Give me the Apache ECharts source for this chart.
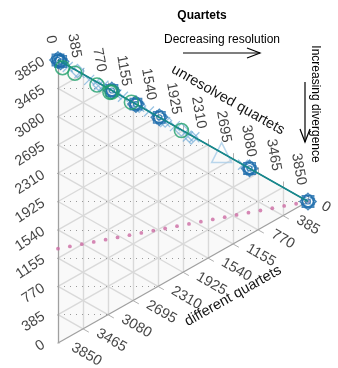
<!DOCTYPE html>
<html><head><meta charset="utf-8">
<script src="https://cdn.jsdelivr.net/npm/echarts@6/dist/echarts.min.js"></script>
<style>html,body{margin:0;padding:0;background:#fff}#c{width:338px;height:368px}</style>
</head><body><div id="c"></div><script>
const TOTAL = 3850;
const ticks = [0, 385, 770, 1155, 1540, 1925, 2310, 2695, 3080, 3465, 3850];
const tickLabels = ['0','385','770','1155','1540','1925','2310','2695','3080','3465','3850'];
// data: unresolved quartets (r) and different quartets (d); same = total - r - d
const blueR = [0, 40, 830, 1200, 1560, 2950, 3850];
const blueD = [0, 0, 0, 0, 0, 0, 0];
const greenR = [70, 260, 600, 800, 830, 1130, 1900];
const greenD = [70, 50, 40, 40, 20, 10, 10];
const lightCrossR = [150, 330, 480, 620, 700, 900, 1000, 1250, 1400, 1650, 1800, 2000, 2100, 2850, 2950, 3850];
const lightCrossD = [20, 10, 30, 40, 0, 20, 0, 10, 0, 20, 0, 40, 0, 0, 20, 0];
const lightDiaR = [300, 640, 1250, 1650, 1900, 2050, 2950];
const lightDiaD = [0, 20, 0, 0, 0, 30, 0];
const paleTriR = [2520];
const paleTriD = [0];
const pinkR = [0,183,367,550,733,917,1100,1283,1467,1650,1833,2017,2200,2383,2567,2750,2933,3117,3300,3483,3667,3850];
const pinkD = [2567,2444,2322,2200,2078,1955,1833,1711,1589,1467,1344,1222,1100,978,855,733,611,489,367,244,122,0];

function xy(r, d) { const s = TOTAL - r - d; return [r, s + r / 2]; }
function pts(R, D) { return R.map((v, i) => xy(v, D[i])); }

const inner = ticks.slice(1, -1);
const gridLines = [];
inner.forEach(t => {
  gridLines.push({coords: [xy(t, TOTAL - t), xy(t, 0)]});
  gridLines.push({coords: [xy(0, t), xy(TOTAL - t, t)]});
  gridLines.push({coords: [xy(0, TOTAL - t), xy(TOTAL - t, 0)]});
});
const dotLines = inner.map(t => ({coords: [[0, t], [t <= TOTAL / 2 ? 2 * t : 2 * (TOTAL - t), t]]}));
const edges = [
  {coords: [xy(0, 0), xy(0, TOTAL)]},
  {coords: [xy(0, TOTAL), xy(TOTAL, 0)]},
  {coords: [xy(0, 0), xy(TOTAL, 0)]}
];
const tickMarks = [];
ticks.forEach(t => {
  tickMarks.push({coords: [xy(0, TOTAL - t), xy(-90, TOTAL - t + 90)]});
  tickMarks.push({coords: [xy(t, 0), xy(t, -80)]});
  tickMarks.push({coords: [xy(TOTAL - t, t), xy(TOTAL - t + 90, t)]});
});

const FONT = 'Liberation Sans, Arial, sans-serif';
function labelSeries(points, lab) {
  return {
    type: 'scatter', symbolSize: 1, itemStyle: {color: 'rgba(0,0,0,0)'}, clip: false, silent: true, z: 10,
    data: points.map((p, i) => ({value: p, name: tickLabels[i]})),
    label: Object.assign({show: true, formatter: '{b}', fontSize: 14.5, color: '#111', fontFamily: FONT, verticalAlign: 'middle'}, lab)
  };
}
const blue = '#1b6bab', green = '#21a06b', light = 'rgba(110,170,215,0.85)';
const star = 'path://M-1,-1L1,-1L1,1L-1,1Z M0,-1.414L1.414,0L0,1.414L-1.414,0Z';
const cross = 'path://M0,0L10,10M10,0L0,10';

const chart = echarts.init(document.getElementById('c'));
chart.setOption({
  animation: false,
  grid: {left: 58, top: 60, width: 250, height: 283},
  xAxis: {type: 'value', min: 0, max: TOTAL, show: false},
  yAxis: {type: 'value', min: 0, max: TOTAL, show: false},
  graphic: [
    {type: 'text', x: 202, y: 16, style: {text: 'Quartets', font: 'bold 12px ' + FONT, fill: '#000', align: 'center', verticalAlign: 'middle'}},
    {type: 'text', x: 222, y: 40, style: {text: 'Decreasing resolution', font: '12px ' + FONT, fill: '#000', align: 'center', verticalAlign: 'middle'}},
    {type: 'polyline', shape: {points: [[183, 53], [260, 53]]}, style: {stroke: '#000', lineWidth: 1.2}},
    {type: 'polyline', shape: {points: [[247, 48], [260, 53], [247, 58]]}, style: {stroke: '#000', lineWidth: 1.2, fill: null}},
    {type: 'text', x: 315, y: 104, rotation: -Math.PI / 2, style: {text: 'Increasing divergence', font: '12px ' + FONT, fill: '#000', align: 'center', verticalAlign: 'middle'}},
    {type: 'polyline', shape: {points: [[305, 82], [305, 142]]}, style: {stroke: '#000', lineWidth: 1.2}},
    {type: 'polyline', shape: {points: [[300, 129], [305, 142], [310, 129]]}, style: {stroke: '#000', lineWidth: 1.2, fill: null}},
    {type: 'text', x: 228, y: 100, rotation: -0.515, style: {text: 'unresolved quartets', font: '14.5px ' + FONT, fill: '#111', align: 'center', verticalAlign: 'middle'}},
    {type: 'text', x: 233, y: 296, rotation: 0.515, style: {text: 'different quartets', font: '14.5px ' + FONT, fill: '#111', align: 'center', verticalAlign: 'middle'}}
  ],
  series: [
    {type: 'custom', silent: true, z: 0, clip: false, data: [[0, 0]],
      renderItem: (p, api) => ({type: 'polygon', shape: {points: [api.coord(xy(0, TOTAL)), api.coord(xy(0, 0)), api.coord(xy(TOTAL, 0))]}, style: {fill: '#f9f9f9'}})},
    {type: 'lines', coordinateSystem: 'cartesian2d', silent: true, z: 1, data: gridLines, lineStyle: {color: '#d9d9d9', width: 1.4, opacity: 1}},
    {type: 'lines', coordinateSystem: 'cartesian2d', silent: true, z: 1, data: dotLines, lineStyle: {color: '#999999', width: 1, type: [1, 5], opacity: 1}},
    {type: 'lines', coordinateSystem: 'cartesian2d', silent: true, z: 2, data: edges, lineStyle: {color: '#a0a0a0', width: 1.3, opacity: 1}},
    {type: 'lines', coordinateSystem: 'cartesian2d', silent: true, z: 2, data: tickMarks, lineStyle: {color: '#b0b0b0', width: 1, opacity: 1}},
    {type: 'scatter', z: 3, clip: false, data: pts(pinkR, pinkD), symbol: 'circle', symbolSize: 3.8, itemStyle: {color: '#cc6aa3'}},
    {type: 'scatter', z: 4, clip: false, data: pts(paleTriR, paleTriD), symbol: 'triangle', symbolSize: 20, itemStyle: {color: 'rgba(0,0,0,0)', borderColor: '#a9cde9', borderWidth: 1.5}},
    {type: 'scatter', z: 4, clip: false, data: pts(lightCrossR, lightCrossD), symbol: cross, symbolSize: 10, itemStyle: {color: 'rgba(0,0,0,0)', borderColor: light, borderWidth: 1.3}},
    {type: 'scatter', z: 4, clip: false, data: pts(lightDiaR, lightDiaD), symbol: 'diamond', symbolSize: 13, itemStyle: {color: 'rgba(0,0,0,0)', borderColor: light, borderWidth: 1.3}},
    {type: 'line', z: 5, data: pts(blueR, blueD), symbol: 'none', lineStyle: {color: blue, width: 1}},
    {type: 'scatter', z: 5, clip: false, data: pts(blueR, blueD), symbol: star, symbolSize: 16, itemStyle: {color: 'rgba(0,0,0,0)', borderColor: blue, borderWidth: 1.6}},
    {type: 'scatter', z: 5, clip: false, data: pts(blueR, blueD), symbol: star, symbolSize: 14, symbolRotate: 22, itemStyle: {color: 'rgba(0,0,0,0)', borderColor: blue, borderWidth: 1.2}},
    {type: 'scatter', z: 5, clip: false, data: pts(blueR, blueD), symbol: 'circle', symbolSize: 5, itemStyle: {color: 'rgba(0,0,0,0)', borderColor: blue, borderWidth: 1.2}},
    {type: 'scatter', z: 6, clip: false, data: pts(greenR, greenD), symbol: 'circle', symbolSize: 14, itemStyle: {color: 'rgba(0,0,0,0)', borderColor: green, borderWidth: 1.6}},
    {type: 'line', z: 6, data: [xy(0, 0), xy(TOTAL, 0)], symbol: 'none', lineStyle: {color: '#17898c', width: 1.6}},
    labelSeries(ticks.map(t => xy(0, TOTAL - t)), {position: [-14, 1], align: 'right', rotate: 33}),
    labelSeries(ticks.map(t => xy(t, 0)), {position: [-6, -16], align: 'right', rotate: -80}),
    labelSeries(ticks.map(t => xy(TOTAL - t, t)), {position: [15, 4], align: 'left', rotate: -30})
  ]
});
</script></body></html>
